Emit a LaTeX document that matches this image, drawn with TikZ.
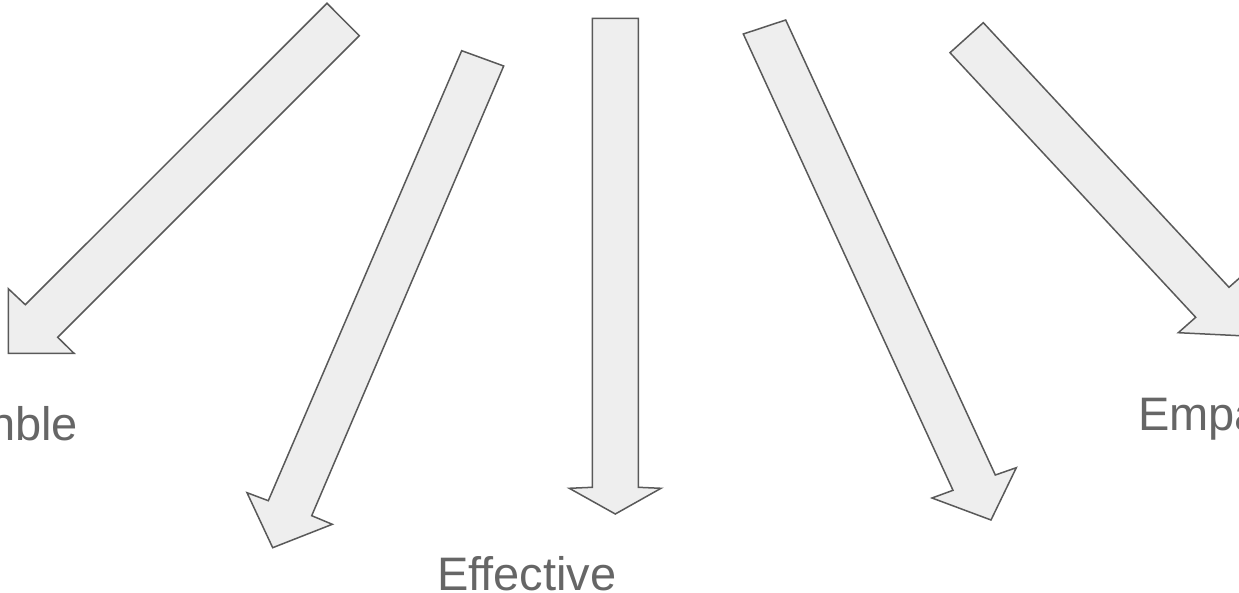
\documentclass[tikz,border=0pt]{standalone}
\usepackage{fontspec}
\setmainfont{Liberation Sans}
\definecolor{arrowfill}{HTML}{EEEEEE}
\definecolor{arrowline}{HTML}{595959}
\definecolor{labeltext}{HTML}{666666}
\begin{document}
\begin{tikzpicture}[x=1pt,y=-1pt,
  blockarrow/.style={fill=arrowfill,draw=arrowline,line width=1.5pt,line join=miter},
  lbl/.style={text=labeltext,font=\fontsize{47}{56}\selectfont,inner sep=0pt,anchor=base west}]
\useasboundingbox (0,0) rectangle (1239,593);
\clip (0,0) rectangle (1239,593);
% arrow 1 (down-left)
\draw[blockarrow] (327,3.3) -- (359.3,35.7) -- (57.7,337.3) -- (74,353.3) -- (8.3,353.3) -- (8.3,288.7) -- (25.3,304.7) -- cycle;
% arrow 2
\draw[blockarrow] (461.7,50.7) -- (503.7,66) -- (311.7,515.7) -- (332.3,524.3) -- (272.7,547.7) -- (247,492.7) -- (268.3,500.7) -- cycle;
% arrow 3 (down)
\draw[blockarrow] (592.3,18.3) -- (638.3,18.3) -- (638.3,487.3) -- (661,488.3) -- (615.3,514) -- (569.3,488.3) -- (592.3,487.3) -- cycle;
% arrow 4
\draw[blockarrow] (743.3,34) -- (785.7,20) -- (995.3,475) -- (1016.3,467.7) -- (991,520) -- (932,498) -- (953,490.3) -- cycle;
% arrow 5
\draw[blockarrow] (950,52.7) -- (983.3,22.7) -- (1229,287.3) -- (1246.4,271.9) -- (1243.8,335.9) -- (1178.3,332.7) -- (1195.7,317.3) -- cycle;
% labels
\node[lbl] (humble) at (-11,440) {nble};
\node[lbl] (effective) at (437,590) {Effective};
\node[lbl] (empa) at (1138,430) {Empa};
\end{tikzpicture}
\end{document}
